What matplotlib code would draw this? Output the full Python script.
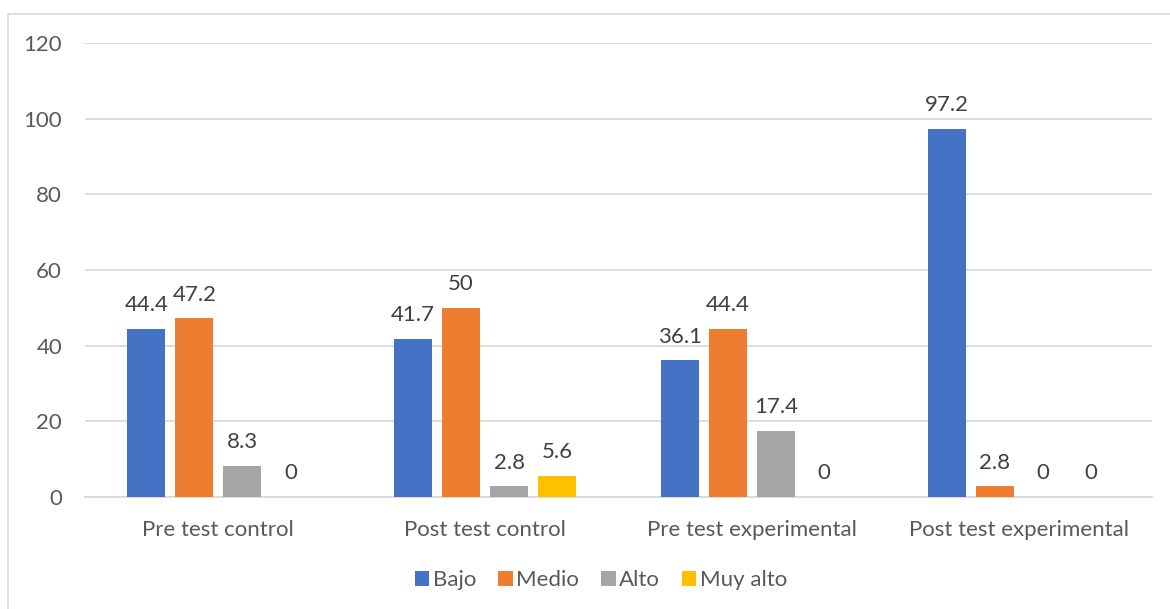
import matplotlib
matplotlib.use("Agg")
import matplotlib.pyplot as plt
from matplotlib.patches import Rectangle
import numpy as np

categories = ["Pre test control", "Post test control", "Pre test experimental", "Post test experimental"]
series_names = ["Bajo", "Medio", "Alto", "Muy alto"]
bajo = [44.4, 41.7, 36.1, 97.2]
medio = [47.2, 50, 44.4, 2.8]
alto = [8.3, 2.8, 17.4, 0]
muy_alto = [0, 5.6, 0, 0]
yticks = [0, 20, 40, 60, 80, 100, 120]

colors = ["#4472C4", "#ED7D31", "#A5A5A5", "#FFC000"]
series = [bajo, medio, alto, muy_alto]

plt.rcParams['font.family'] = ['Lato', 'DejaVu Sans']
txt = "#595959"
fs = 16

fig = plt.figure(figsize=(11.7, 6.09), dpi=100)
fig.patches.append(Rectangle((8/1170, -0.05), 1.2, 1 - 14/609 + 0.05,
                             transform=fig.transFigure, fill=False,
                             edgecolor="#D9D9D9", linewidth=1.2, zorder=0))
ax = fig.add_axes([85/1170, 1 - 497/609, (1152-85)/1170, (497-43)/609])

x = np.arange(len(categories))
bw = 0.142
slot = 0.18
for i, (name, vals) in enumerate(zip(series_names, series)):
    pos = x + (i - 1.5) * slot
    ax.bar(pos, vals, width=bw, color=colors[i], label=name, zorder=3)
    for p, v in zip(pos, vals):
        ax.annotate(f"{v:g}", (p, v), xytext=(0, 10), textcoords="offset points",
                    ha="center", va="bottom", fontsize=fs, color="#404040")

ax.set_xlim(-0.5, 3.5)
ax.set_ylim(0, 120)
ax.set_yticks(yticks)
ax.set_xticks(x)
ax.set_xticklabels(categories)
ax.yaxis.grid(True, color="#D9D9D9", linewidth=1.3, zorder=0)
ax.set_axisbelow(True)
for s in ["left", "right", "top"]:
    ax.spines[s].set_visible(False)
ax.spines["bottom"].set_color("#D9D9D9")
ax.spines["bottom"].set_linewidth(1.3)
ax.tick_params(axis="both", length=0, labelsize=fs, colors=txt)
ax.tick_params(axis="y", pad=16.5)
ax.tick_params(axis="x", pad=16.5)

fig.legend(loc="center", bbox_to_anchor=(601/1170, 1 - 580/609), ncol=4,
           frameon=False, fontsize=fs, handlelength=0.65, handleheight=0.65,
           handletextpad=0.15, columnspacing=1.0, labelcolor=txt)

fig.savefig("out.png", dpi=100)
